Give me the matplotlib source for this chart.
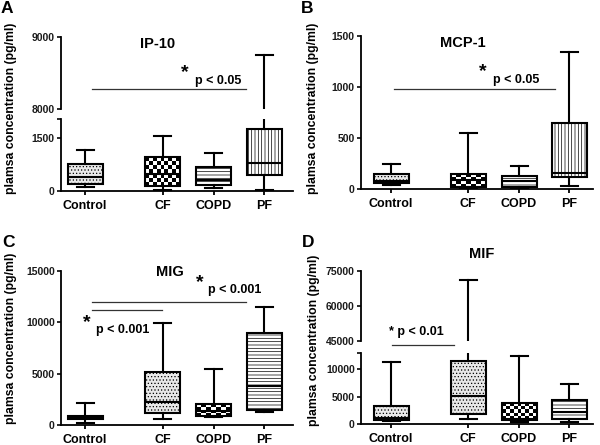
import matplotlib
matplotlib.use('Agg')
import matplotlib.pyplot as plt
import numpy as np

plt.rcParams['font.family'] = ['Liberation Sans', 'DejaVu Sans']
plt.rcParams['font.weight'] = 'bold'
plt.rcParams['hatch.linewidth'] = 0.5

categories = ['Control', 'CF', 'COPD', 'PF']

# IP-10 (pg/ml)
ip10_whislo = [105, 28, 68, 20]
ip10_q1 = [198, 133, 153, 444]
ip10_med = [388, 480, 303, 793]
ip10_q3 = [747, 945, 680, 1747]
ip10_whishi = [1143, 1540, 1058, 8746]

# MCP-1 (pg/ml)
mcp1_whislo = [42, 10, 8, 32]
mcp1_q1 = [59, 25, 22, 123]
mcp1_med = [81, 90, 81, 156]
mcp1_q3 = [150, 147, 133, 646]
mcp1_whishi = [248, 548, 231, 1346]

# MIG (pg/ml)
mig_whislo = [137, 587, 782, 1212]
mig_q1 = [528, 1115, 880, 1437]
mig_med = [700, 2190, 1369, 3813]
mig_q3 = [880, 5183, 1995, 8996]
mig_whishi = [2092, 9974, 5446, 11538]

# MIF (pg/ml)
mif_whislo = [545, 1036, 418, 418]
mif_q1 = [727, 1945, 727, 1036]
mif_med = [1145, 5090, 1000, 2200]
mif_q3 = [3327, 11509, 3945, 4364]
mif_whishi = [11327, 71000, 12364, 7273]

W, H = 600, 445
fig = plt.figure(figsize=(6, 4.45), dpi=100)


def add_ax(x0, y0, x1, y1):
    return fig.add_axes([x0 / W, 1 - y1 / H, (x1 - x0) / W, (y1 - y0) / H])


def ftext(x, y, s, **kw):
    fig.text(x / W, 1 - y / H, s, **kw)


LEFT_POS = [24, 101.5, 152.5, 203]
RIGHT_POS = [30, 107, 158, 208]
BOXW = 35


def style(ax, yticks, ylim, pos, show_x, top_tick=False):
    ax.set_xlim(0, 232)
    ax.set_ylim(*ylim)
    ax.set_facecolor('none')
    for s in ['top', 'right']:
        ax.spines[s].set_visible(False)
    ax.spines['left'].set_linewidth(1.3)
    ax.spines['bottom'].set_linewidth(1.3)
    ticks = list(yticks) + ([ylim[1]] if top_tick else [])
    labels = [str(t) for t in yticks] + ([''] if top_tick else [])
    ax.set_yticks(ticks, labels)
    ax.tick_params(axis='y', length=3, width=1.3, pad=1.5, labelsize=7.5,
                   colors='#1a1a1a')
    if show_x:
        ax.set_xticks(pos, categories)
        ax.tick_params(axis='x', length=3, width=1.3, pad=3.5, labelsize=9)
    else:
        ax.spines['bottom'].set_visible(False)
        ax.set_xticks([])


def draw(ax, whislo, q1, med, q3, whishi, pos, patterns, ylim, hpx):
    stats = [dict(whislo=a, q1=b, med=c, q3=d, whishi=e, label=l)
             for a, b, c, d, e, l in zip(whislo, q1, med, q3, whishi, categories)]
    art = ax.bxp(stats, positions=pos, widths=BOXW, capwidths=17,
                 patch_artist=True, showfliers=False, manage_ticks=False,
                 boxprops=dict(linewidth=1.5, edgecolor='black', facecolor='white'),
                 whiskerprops=dict(linewidth=1.5, color='black'),
                 capprops=dict(linewidth=1.5, color='black'),
                 medianprops=dict(linewidth=1.5, color='black'))
    ypp = (ylim[1] - ylim[0]) / hpx
    for box, pat, p, st in zip(art['boxes'], patterns, pos, stats):
        if pat == 'dots':
            box.set_facecolor('#e8e8e8')
            box.set_hatch('.' * 5)
        elif pat == 'hlines':
            box.set_hatch('-' * 5)
        elif pat == 'vlines':
            box.set_hatch('|' * 5)
        elif pat.startswith('checker'):
            cw, ch = (3.9, 3.9) if pat == 'checker' else (5, 3)
            box.set_facecolor('none')
            hp = (st['q3'] - st['q1']) / ypp
            nx = max(1, int(round(BOXW / cw)))
            ny = max(1, int(round(hp / ch)))
            arr = np.add.outer(np.arange(ny), np.arange(nx)) % 2
            im = ax.imshow(arr, cmap='gray', vmin=0, vmax=1, aspect='auto',
                           interpolation='nearest', origin='lower',
                           extent=(p - BOXW / 2, p + BOXW / 2, st['q1'], st['q3']),
                           zorder=1.9)
            im.set_clip_path(box)
    ax.set_xlim(0, 232)
    ax.set_ylim(*ylim)


# ---------------- Panel A (broken axis) ----------------
axA_hi = add_ax(61, 36.7, 293, 108.7)
axA_lo = add_ax(61, 119.3, 293, 190.7)
patA = ['dots', 'checker', 'hlines', 'vlines']
for ax, yl, hpx in [(axA_hi, (8000, 9000), 72), (axA_lo, (0, 2021), 71.4)]:
    draw(ax, ip10_whislo, ip10_q1, ip10_med, ip10_q3, ip10_whishi, LEFT_POS, patA, yl, hpx)
style(axA_hi, [8000, 9000], (8000, 9000), LEFT_POS, False)
style(axA_lo, [0, 1500], (0, 2021), LEFT_POS, True, top_tick=True)
axA_hi.plot([30.7, 185], [8269, 8269], color='#333333', lw=0.9, clip_on=False)
axA_hi.text(124, 8500, '*', fontsize=14, ha='center', va='center')
axA_hi.text(134, 8390, 'p < 0.05', fontsize=9, ha='left', va='center')

# ---------------- Panel B ----------------
axB = add_ax(361, 36, 593, 189.3)
patB = ['dots', 'checker_wide', 'hlines', 'vlines']
draw(axB, mcp1_whislo, mcp1_q1, mcp1_med, mcp1_q3, mcp1_whishi, RIGHT_POS, patB, (0, 1500), 153.3)
style(axB, [0, 500, 1000, 1500], (0, 1500), RIGHT_POS, True)
axB.plot([33, 194], [978, 978], color='#333333', lw=0.9, clip_on=False)
axB.text(122, 1150, '*', fontsize=14, ha='center', va='center')
axB.text(131.7, 1065, 'p < 0.05', fontsize=9, ha='left', va='center')

# ---------------- Panel C ----------------
axC = add_ax(61, 271.3, 293, 424.7)
patC = ['dots', 'dots', 'checker_wide', 'hlines']
draw(axC, mig_whislo, mig_q1, mig_med, mig_q3, mig_whishi, LEFT_POS, patC, (0, 15000), 153.4)
style(axC, [0, 5000, 10000, 15000], (0, 15000), LEFT_POS, True)
axC.plot([30.7, 185], [12027, 12027], color='#333333', lw=0.9, clip_on=False)
axC.plot([30.7, 100.7], [11216, 11216], color='#333333', lw=0.9, clip_on=False)
axC.text(139, 13900, '*', fontsize=14, ha='center', va='center')
axC.text(147.3, 13170, 'p < 0.001', fontsize=9, ha='left', va='center')
axC.text(25.7, 10000, '*', fontsize=14, ha='center', va='center')
axC.text(34.7, 9260, 'p < 0.001', fontsize=9, ha='left', va='center')

# ---------------- Panel D (broken axis) ----------------
axD_hi = add_ax(361, 270.7, 593, 340.7)
axD_lo = add_ax(361, 353.3, 593, 424.3)
patD = ['dots', 'dots', 'checker', 'hlines']
for ax, yl, hpx in [(axD_hi, (45000, 75000), 70), (axD_lo, (0, 12850), 71)]:
    draw(ax, mif_whislo, mif_q1, mif_med, mif_q3, mif_whishi, RIGHT_POS, patD, yl, hpx)
style(axD_hi, [45000, 60000, 75000], (45000, 75000), RIGHT_POS, False)
style(axD_lo, [0, 5000, 10000], (0, 12850), RIGHT_POS, True, top_tick=True)
axD_hi.plot([30.7, 93.3], [43157, 43157], color='#333333', lw=0.9, clip_on=False)
axD_hi.text(28, 48860, '* p < 0.01', fontsize=9, ha='left', va='center')

# ---------------- Titles, panel letters, y labels ----------------
ftext(158, 44, 'IP-10', fontsize=10.5, ha='center', va='center')
ftext(463, 43, 'MCP-1', fontsize=10.5, ha='center', va='center')
ftext(170, 272, 'MIG', fontsize=10.5, ha='center', va='center')
ftext(482, 254, 'MIF', fontsize=10.5, ha='center', va='center')

for x, y, s in [(1, 1, 'A'), (301, 1, 'B'), (2, 235, 'C'), (302, 235, 'D')]:
    ftext(x, y, s, fontsize=12.5, ha='left', va='top')

ylab = 'plamsa concentration (pg/ml)'
for x, y in [(11, 108), (313, 108), (11, 338), (314, 340)]:
    ftext(x, y, ylab, fontsize=8.8, rotation=90, ha='center', va='center')

fig.savefig('out.png', dpi=100)
